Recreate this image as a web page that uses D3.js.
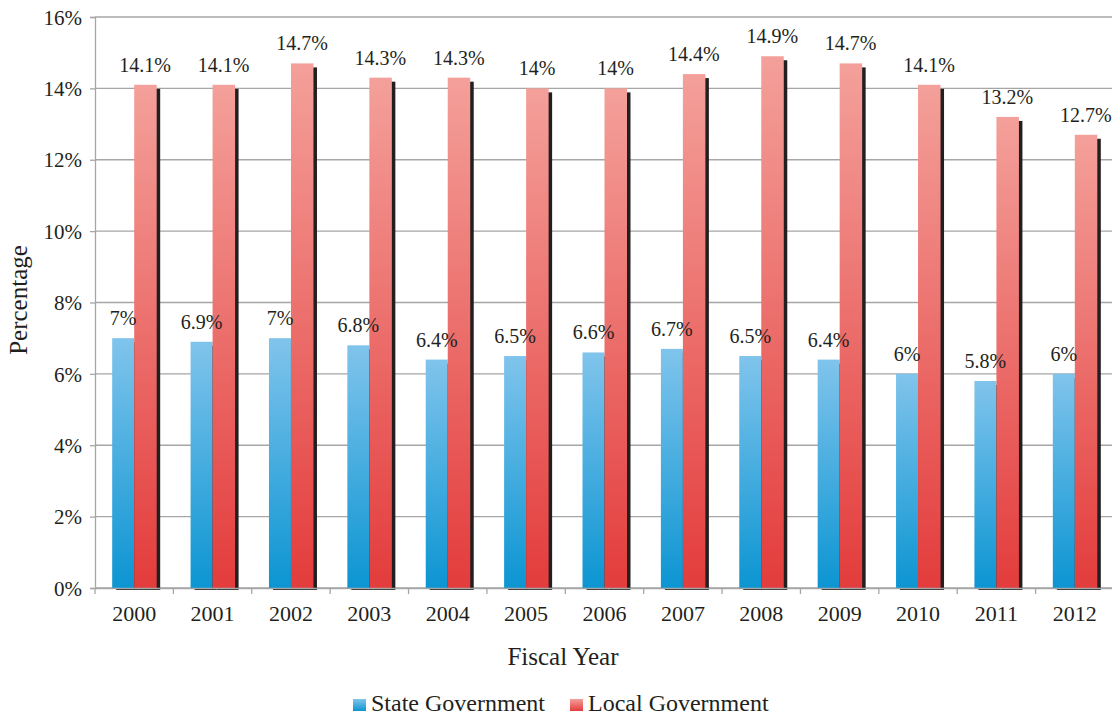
<!DOCTYPE html>
<html>
<head>
<meta charset="utf-8">
<script src="https://cdn.jsdelivr.net/npm/d3@7"></script>
<style>
  html, body { margin: 0; padding: 0; background: #fff; }
  svg { display: block; }
</style>
</head>
<body>
<svg id="chart" width="1112" height="717"></svg>
<script>
// Fiscal years and shares (%) for state and local government
const years = ["2000","2001","2002","2003","2004","2005","2006","2007","2008","2009","2010","2011","2012"];
const stateValues = [7, 6.9, 7, 6.8, 6.4, 6.5, 6.6, 6.7, 6.5, 6.4, 6, 5.8, 6];
const localValues = [14.1, 14.1, 14.7, 14.3, 14.3, 14, 14, 14.4, 14.9, 14.7, 14.1, 13.2, 12.7];
const yTicks = [0, 2, 4, 6, 8, 10, 12, 14, 16];
const seriesNames = ["State Government", "Local Government"];

const FONT = '"Liberation Serif", "Times New Roman", serif';
const INK = "#231f20";

const svg = d3.select("#chart");
const plotLeft = 95, plotRight = 1114, plotTop = 17, plotBottom = 588;

const x = d3.scaleBand().domain(years).range([plotLeft, plotRight]).padding(0);
const y = d3.scaleLinear().domain([0, 16]).range([plotBottom, plotTop]);

const defs = svg.append("defs");
function grad(id, c1, c2) {
  const g = defs.append("linearGradient").attr("id", id)
    .attr("x1", 0).attr("y1", 0).attr("x2", 0).attr("y2", 1);
  g.append("stop").attr("offset", "0%").attr("stop-color", c1);
  g.append("stop").attr("offset", "100%").attr("stop-color", c2);
}
grad("gState", "#80c4ec", "#0c95d2");
grad("gLocal", "#f4a09a", "#e33c3c");

const gridColor = "#a6a6a6";

// horizontal gridlines
svg.append("g").selectAll("line").data(yTicks).join("line")
  .attr("x1", plotLeft).attr("x2", plotRight)
  .attr("y1", d => y(d)).attr("y2", d => y(d))
  .attr("stroke", gridColor).attr("stroke-width", 1.3);

const barW = 22;
const cx = d => x(d) + x.bandwidth() / 2;

// drop shadows behind the bars
const shadow = svg.append("g").attr("fill", INK);
shadow.selectAll("rect.s").data(years).join("rect").attr("class", "s")
  .attr("x", d => cx(d) - barW + 4)
  .attr("y", (d, i) => y(stateValues[i]) + 4)
  .attr("width", barW)
  .attr("height", (d, i) => plotBottom + 2 - y(stateValues[i]) - 4);
shadow.selectAll("rect.l").data(years).join("rect").attr("class", "l")
  .attr("x", d => cx(d) + 4)
  .attr("y", (d, i) => y(localValues[i]) + 4)
  .attr("width", barW)
  .attr("height", (d, i) => plotBottom + 2 - y(localValues[i]) - 4);

// bars
svg.append("g").selectAll("rect").data(years).join("rect")
  .attr("x", d => cx(d) - barW)
  .attr("y", (d, i) => y(stateValues[i]))
  .attr("width", barW)
  .attr("height", (d, i) => plotBottom - y(stateValues[i]))
  .attr("fill", "url(#gState)");
svg.append("g").selectAll("rect").data(years).join("rect")
  .attr("x", d => cx(d))
  .attr("y", (d, i) => y(localValues[i]))
  .attr("width", barW + 0.5)
  .attr("height", (d, i) => plotBottom - y(localValues[i]))
  .attr("fill", "url(#gLocal)");

// value labels
const fmt = v => String(v) + "%";
svg.append("g").selectAll("text").data(years).join("text")
  .attr("x", d => cx(d) - barW / 2)
  .attr("y", (d, i) => y(stateValues[i]) - 13)
  .attr("text-anchor", "middle").attr("font-size", 20)
  .attr("font-family", FONT).attr("fill", INK)
  .text((d, i) => fmt(stateValues[i]));
svg.append("g").selectAll("text").data(years).join("text")
  .attr("x", d => cx(d) + barW / 2)
  .attr("y", (d, i) => y(localValues[i]) - 13)
  .attr("text-anchor", "middle").attr("font-size", 20)
  .attr("font-family", FONT).attr("fill", INK)
  .text((d, i) => fmt(localValues[i]));

// y axis
const yAxis = svg.append("g").attr("transform", `translate(${plotLeft},0)`)
  .call(d3.axisLeft(y).tickValues(yTicks).tickFormat(d => d + "%").tickSize(5).tickPadding(8));
yAxis.attr("font-family", FONT);
yAxis.select(".domain").attr("stroke", gridColor).attr("stroke-width", 1.3);
yAxis.selectAll(".tick line").attr("stroke", gridColor).attr("stroke-width", 1.3);
yAxis.selectAll(".tick text").attr("font-size", 21).attr("font-family", FONT)
  .attr("fill", INK).attr("dy", "0.34em");

// x axis
const xAxis = svg.append("g").attr("transform", `translate(0,${plotBottom})`)
  .call(d3.axisBottom(x).tickSize(0).tickPadding(17));
xAxis.attr("font-family", FONT);
xAxis.select(".domain").attr("stroke", gridColor).attr("stroke-width", 1.3);
xAxis.selectAll(".tick text").attr("font-size", 22).attr("font-family", FONT).attr("fill", INK);
svg.append("g").selectAll("line").data(years.concat(["end"])).join("line")
  .attr("x1", (d, i) => plotLeft + i * x.bandwidth())
  .attr("x2", (d, i) => plotLeft + i * x.bandwidth())
  .attr("y1", plotBottom).attr("y2", plotBottom + 6)
  .attr("stroke", gridColor).attr("stroke-width", 1.3);

// axis titles
svg.append("text").attr("x", 563).attr("y", 665)
  .attr("text-anchor", "middle").attr("font-size", 25)
  .attr("font-family", FONT).attr("fill", INK).text("Fiscal Year");
svg.append("text").attr("transform", "translate(27,300) rotate(-90)")
  .attr("text-anchor", "middle").attr("font-size", 25)
  .attr("font-family", FONT).attr("fill", INK).text("Percentage");

// legend
const legend = svg.append("g");
const legendItems = [
  { name: seriesNames[0], fill: "url(#gState)", x: 353 },
  { name: seriesNames[1], fill: "url(#gLocal)", x: 570 }
];
legendItems.forEach(it => {
  legend.append("rect").attr("x", it.x).attr("y", 699).attr("width", 13).attr("height", 12).attr("fill", it.fill);
  legend.append("text").attr("x", it.x + 18).attr("y", 711).attr("font-size", 24)
    .attr("font-family", FONT).attr("fill", INK).text(it.name);
});
</script>
</body>
</html>
